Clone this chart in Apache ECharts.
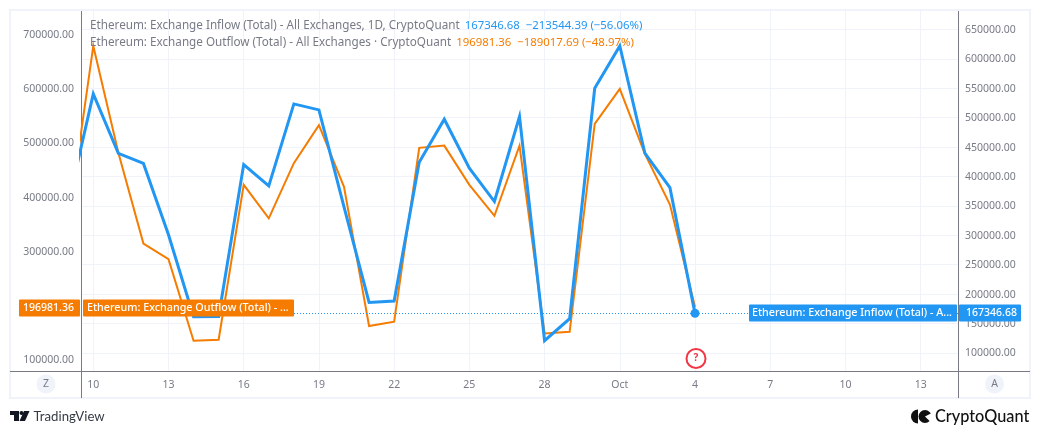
<!DOCTYPE html>
<html><head><meta charset="utf-8">
<style>html,body{margin:0;padding:0;background:#fff}#c{width:1040px;height:434px}</style>
<script src="https://cdn.jsdelivr.net/npm/echarts@6/dist/echarts.min.js"></script>
</head><body><div id="c"></div>
<script>
// day offset from Sep 10; the first point (Sep 9) lies just outside the visible pane
const dayLabels = ['09-09','09-10','09-11','09-12','09-13','09-14','09-15','09-16','09-17','09-18','09-19','09-20','09-21','09-22','09-23','09-24','09-25','09-26','09-27','09-28','09-29','09-30','10-01','10-02','10-03','10-04'];
const inflow = [353500,540200,439200,422200,300900,161600,162000,420200,384000,523300,513100,348400,185900,188300,424300,497300,414100,357400,501700,120900,158200,549900,621700,439600,380891.07,167346.68];
const outflow = [350500,679100,481600,314100,285000,134500,136400,422500,360700,462600,532700,418800,161700,169600,490800,495000,422500,365300,495000,148000,151100,535100,599700,479700,385999.05,196981.36];
const xTickDays = [0,3,6,9,12,15,18,21,24,27,30,33];
const xTickLabels = ['10','13','16','19','22','25','28','Oct','4','7','10','13'];
const leftTicks = [100000,200000,300000,400000,500000,600000,700000];
const rightTicks = [100000,150000,200000,250000,300000,350000,400000,450000,500000,550000,600000,650000];
const inflowLegend = 'Ethereum: Exchange Inflow (Total) - All Exchanges, 1D, CryptoQuant';
const outflowLegend = 'Ethereum: Exchange Outflow (Total) - All Exchanges · CryptoQuant';
const inflowDelta = '−213544.39 (−56.06%)';
const outflowDelta = '−189017.69 (−48.97%)';
const inflowTag = 'Ethereum: Exchange Inflow (Total) - A...';
const outflowTag = 'Ethereum: Exchange Outflow (Total) - ...';

const BLUE='#2196f3', ORANGE='#f57c00', GREY='#787b86', GRID='#f0f3fa', FONT='"Noto Sans",sans-serif', FS=10.5;
const G={l:81,t:10,w:877,h:361};
const toXY=a=>a.map((v,i)=>[i-1,v]);
const last=inflow.length-1;
const fmt=v=>v.toFixed(2);
const chart=echarts.init(document.getElementById('c'),null,{renderer:'canvas'});
const rs=(c,s)=>({color:c,fontSize:s,fontFamily:FONT,fontWeight:'normal'});
const legendTitle=(t,val,delta,cls,top)=>({
  left:85,top:top,
  text:`{a|${t}} {${cls}|${val}  ${delta}}`,
  textStyle:{fontWeight:'normal',rich:{a:rs(GREY,11.7),b:rs(BLUE,11.4),o:rs(ORANGE,11.4)}}
});
chart.setOption({
  animation:false,backgroundColor:'#fff',
  title:[legendTitle(inflowLegend,fmt(inflow[last]),inflowDelta,'b',12),legendTitle(outflowLegend,fmt(outflow[last]),outflowDelta,'o',29)],
  grid:{left:G.l,top:G.t,width:G.w,height:G.h,containLabel:false},
  xAxis:{type:'value',min:-0.49,max:34.49,
    axisLine:{show:false},
    axisTick:{show:false,customValues:xTickDays},
    axisLabel:{customValues:xTickDays,formatter:v=>xTickLabels[xTickDays.indexOf(v)],color:GREY,fontSize:FS,fontFamily:FONT,margin:9,showMinLabel:true,showMaxLabel:true},
    splitLine:{show:true,lineStyle:{color:GRID,width:1}}},
  yAxis:[
    {type:'value',position:'left',min:78600,max:745500,
     axisLine:{show:true,onZero:false,lineStyle:{color:GREY,width:1}},
     axisTick:{show:false,customValues:leftTicks},
     axisLabel:{customValues:leftTicks,formatter:fmt,color:GREY,fontSize:FS,fontFamily:FONT,margin:7,verticalAlign:'top',padding:[-5,0,0,0]},
     splitLine:{show:false}},
    {type:'value',position:'right',min:69400,max:682900,
     axisLine:{show:true,onZero:false,lineStyle:{color:GREY,width:1}},
     axisTick:{show:false,customValues:rightTicks},
     axisLabel:{customValues:rightTicks,formatter:fmt,color:GREY,fontSize:FS,fontFamily:FONT,margin:7,verticalAlign:'top',padding:[-5,0,0,0]},
     splitLine:{show:true,lineStyle:{color:GRID,width:1}}}
  ],
  series:[
    {name:'Exchange Outflow',type:'line',yAxisIndex:0,data:toXY(outflow),showSymbol:false,lineStyle:{color:ORANGE,width:2,join:'miter'},itemStyle:{color:ORANGE},z:2},
    {name:'Exchange Inflow',type:'line',yAxisIndex:1,data:toXY(inflow),symbol:'circle',showSymbol:true,showAllSymbol:true,
      symbolSize:(v,p)=>p.dataIndex===last?9:0,lineStyle:{color:BLUE,width:3,join:'miter'},itemStyle:{color:BLUE},z:3,
      markLine:{silent:true,symbol:'none',label:{show:false},lineStyle:{color:BLUE,type:[1,2],width:1},data:[{yAxis:inflow[last]}]}}
  ]
});
const yO=Math.round(chart.convertToPixel({yAxisIndex:0},outflow[last]))+1;
const yB=Math.round(chart.convertToPixel({yAxisIndex:1},inflow[last]));
const xQ=chart.convertToPixel({xAxisIndex:0},last-1);
const tag=(x,y,w,h,fill,text,tx,r,fs)=>[
  {type:'rect',z:100,shape:{x,y:y-h/2,width:w,height:h,r:r||1},style:{fill}},
  {type:'text',z:101,style:{x:tx,y,text,fill:'#fff',font:`500 ${fs||FS}px ${FONT}`,textVerticalAlign:'middle',textAlign:'left'}}
];
const line=(x1,y1,x2,y2,c,w)=>({type:'line',z:50,shape:{x1,y1,x2,y2},style:{stroke:c,lineWidth:w||1}});
const badge=(cx,t)=>[
  {type:'circle',z:60,shape:{cx,cy:384,r:9.5},style:{fill:GRID}},
  {type:'text',z:61,style:{x:cx,y:384,text:t,fill:GREY,font:`${FS}px ${FONT}`,textAlign:'center',textVerticalAlign:'middle'}}
];
chart.setOption({graphic:{elements:[
  {type:'rect',z:40,shape:{x:10,y:10,width:1020,height:388},style:{fill:'none',stroke:GRID,lineWidth:2}},
  line(10,371.5,1030,371.5,GREY),
  line(81.5,371,81.5,398,GREY),
  line(958.5,371,958.5,398,GREY),
  ...badge(46,'Z'),...badge(994.5,'A'),
  ...tag(19,yO,61,17,ORANGE,fmt(outflow[last]),23),
  ...tag(83,yO,211,17,ORANGE,outflowTag,87,1,10.75),
  ...tag(749,yB,208,17,BLUE,inflowTag,752,1,10.75),
  ...tag(959,yB,62,17,BLUE,fmt(inflow[last]),966),
  {type:'circle',z:60,shape:{cx:xQ+1,cy:358.5,r:9.5},style:{fill:'#fff',stroke:'#f23645',lineWidth:2}},
  {type:'text',z:61,style:{x:xQ+1,y:358.5,text:'?',fill:'#f23645',font:`bold 10px ${FONT}`,textAlign:'center',textVerticalAlign:'middle'}},
  // TradingView mark
  {type:'polygon',z:60,shape:{points:[[10,411],[19,411],[19,421],[14,421],[14,415],[10,415]]},style:{fill:'#131722'}},
  {type:'circle',z:60,shape:{cx:21.5,cy:413,r:2},style:{fill:'#131722'}},
  {type:'polygon',z:60,shape:{points:[[24,411],[29.5,411],[25,421],[19.5,421]]},style:{fill:'#131722'}},
  {type:'text',z:60,style:{x:33.5,y:416.5,text:'TradingView',fill:'#363a45',font:`13.2px Lato`,textVerticalAlign:'middle'}},
  // CryptoQuant mark
  {type:'sector',z:60,shape:{cx:918,cy:416.5,r:7,r0:0,startAngle:Math.PI/2,endAngle:Math.PI*1.5},style:{fill:'#111'}},
  {type:'sector',z:60,shape:{cx:925,cy:416.5,r:6.5,r0:0,startAngle:Math.PI*0.25,endAngle:Math.PI*1.85},style:{fill:'#111'}},
  {type:'text',z:60,style:{x:935,y:416.5,text:'CryptoQuant',fill:'#111',font:`500 16.3px Lato`,textVerticalAlign:'middle'}}
]}});
</script></body></html>
